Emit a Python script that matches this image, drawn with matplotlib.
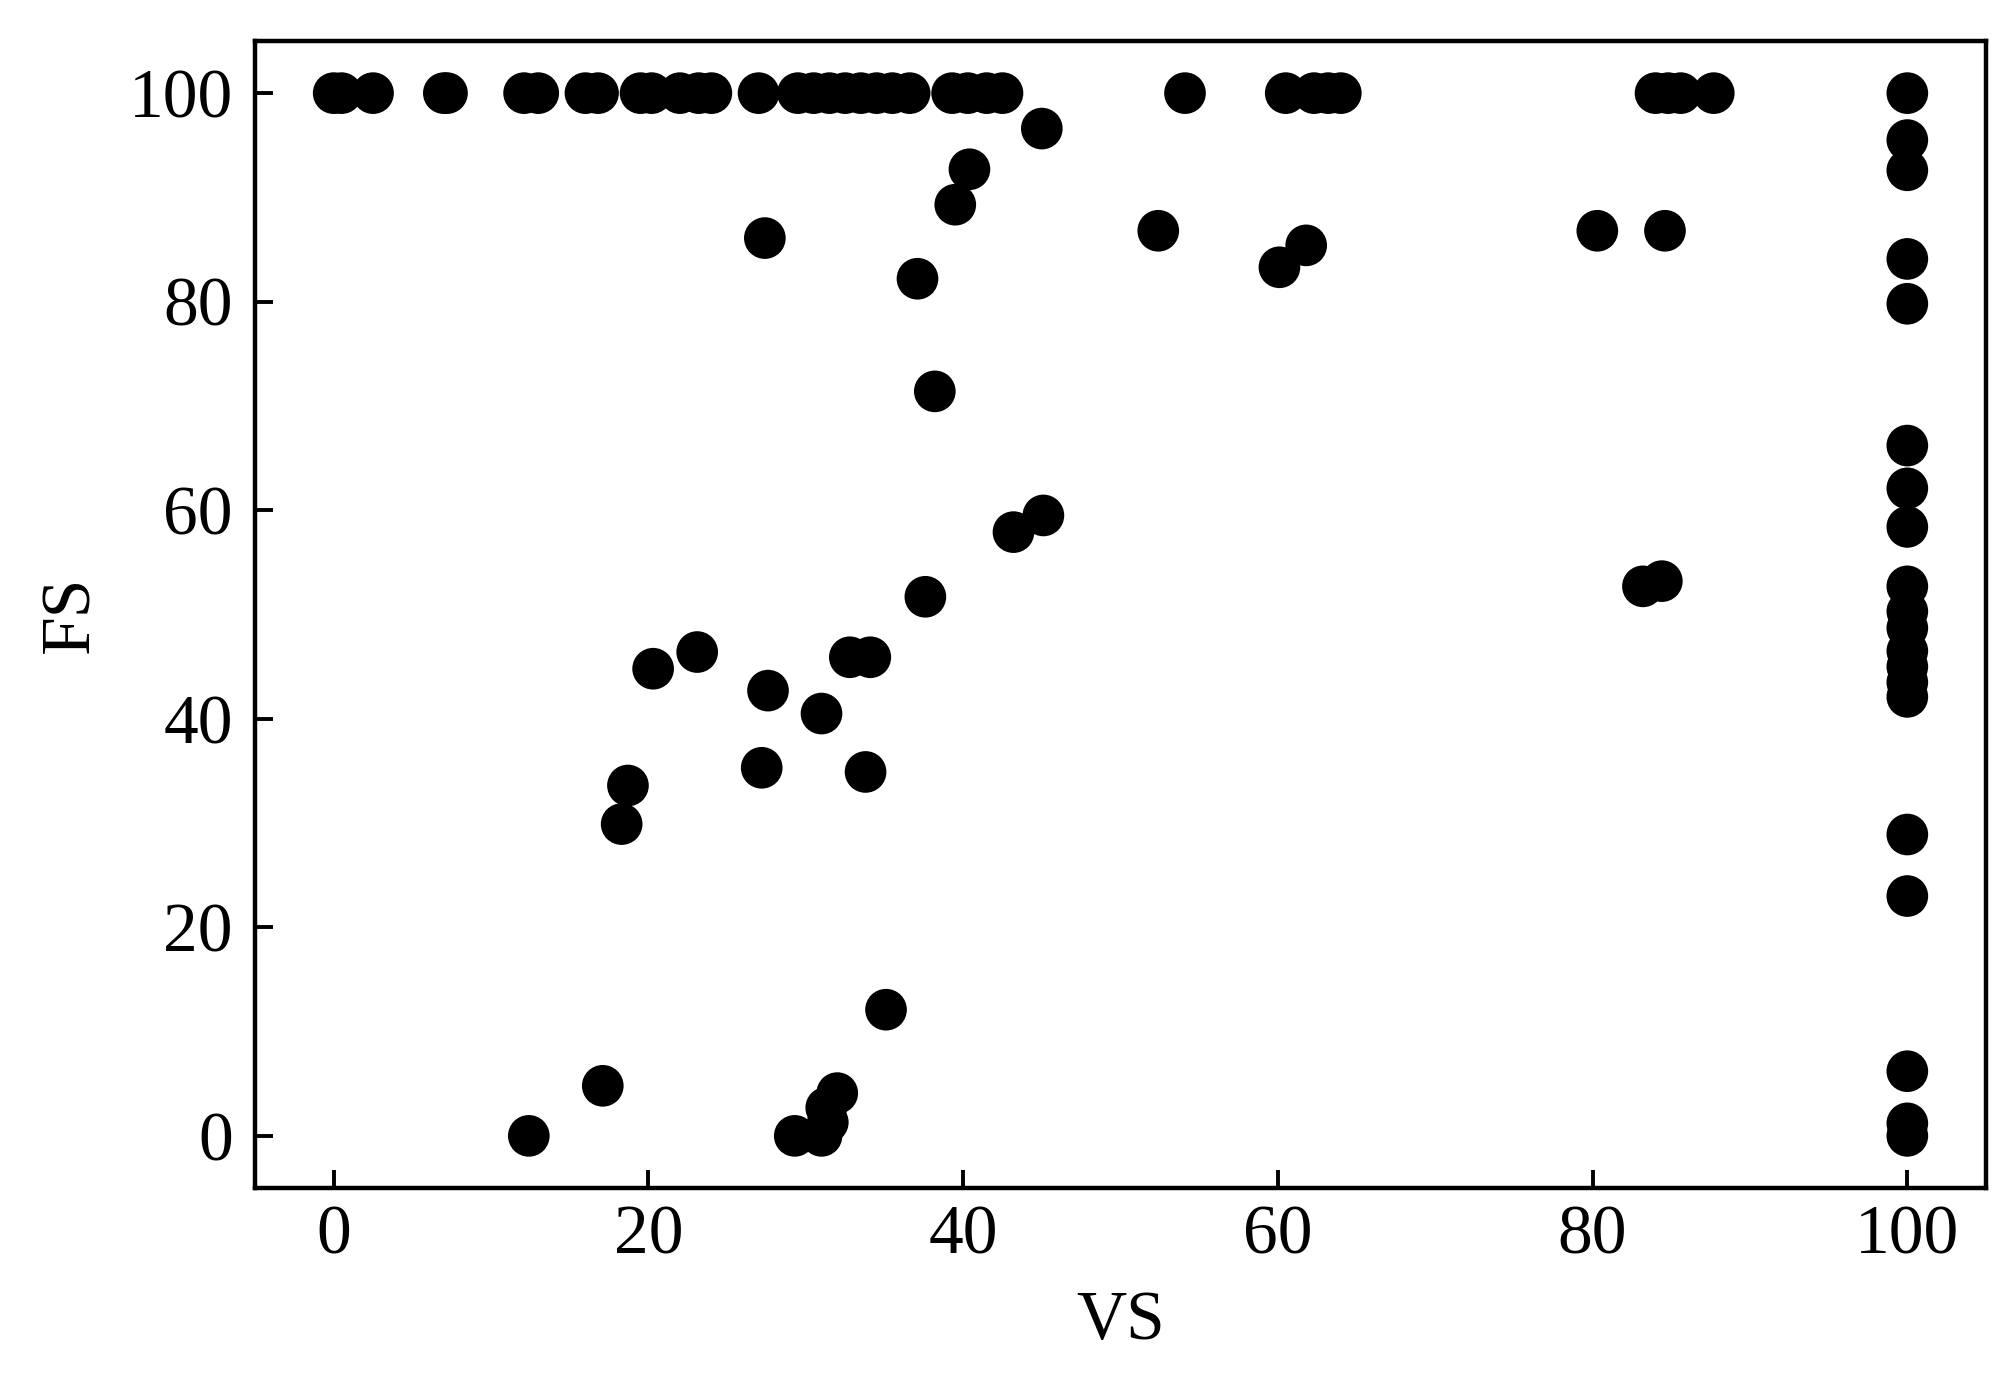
import matplotlib
matplotlib.use("Agg")
import matplotlib.pyplot as plt

plt.rcParams['font.family'] = ['Liberation Serif', 'DejaVu Serif']

# top row (FS = 100)
vs_top = [0, 0.5, 2.5, 7.0, 7.2, 12.1, 13.0, 16.0, 16.8, 19.5, 20.2, 22.0, 23.2, 24.0,
          27.0, 29.5, 30.5, 31.5, 32.5, 33.5, 34.5, 35.5, 36.6, 39.3, 40.3, 41.5, 42.5,
          54.1, 60.5, 62.3, 63.2, 64.0, 84.0, 84.8, 85.6, 87.7, 100]
fs_top = [100] * len(vs_top)

# remaining points
vs_other = [45.0, 40.4, 39.5, 27.4, 37.1, 38.2, 52.4, 60.1, 61.8, 80.3, 84.6,
            43.2, 45.1, 37.6, 20.3, 23.1, 27.6, 31.0, 32.8, 34.1,
            18.7, 18.3, 27.2, 33.8, 35.1, 17.1, 12.4,
            29.3, 31.0, 31.3, 31.4, 32.0,
            83.2, 84.4]
fs_other = [96.6, 92.7, 89.3, 86.1, 82.2, 71.4, 86.8, 83.3, 85.4, 86.8, 86.8,
            57.9, 59.5, 51.7, 44.8, 46.4, 42.7, 40.5, 45.9, 45.9,
            33.6, 29.9, 35.3, 34.9, 12.1, 4.8, 0.0,
            0.0, 0.0, 2.7, 1.3, 4.1,
            52.7, 53.2]

# column at VS = 100
fs_col100 = [95.5, 92.6, 84.1, 79.8, 66.2, 62.1, 58.4, 52.7, 50.3, 48.7, 46.5, 45.0,
             43.5, 42.1, 28.9, 23.0, 6.2, 1.2, 0.0]
vs_col100 = [100] * len(fs_col100)

vs = vs_top + vs_other + vs_col100
fs = fs_top + fs_other + fs_col100

x_ticks = [0, 20, 40, 60, 80, 100]
y_ticks = [0, 20, 40, 60, 80, 100]

fig = plt.figure(figsize=(2013 / 200, 1384 / 200), dpi=200)
ax = fig.add_axes([255 / 2013, 1 - 1188 / 1384, (1986 - 255) / 2013, (1188 - 41) / 1384])

ax.scatter(vs, fs, s=225, color='black', edgecolors='none', zorder=3)

ax.set_xlim(-5, 105)
ax.set_ylim(-5, 105)
ax.set_xticks(x_ticks)
ax.set_yticks(y_ticks)
ax.tick_params(axis='both', direction='in', length=6.5, width=1.4, labelsize=25,
               top=False, right=False)
ax.tick_params(axis='y', pad=8)
ax.tick_params(axis='x', pad=6)
for sp in ax.spines.values():
    sp.set_linewidth(1.6)

ax.set_xlabel('VS', fontsize=25, labelpad=8)
ax.set_ylabel('FS', fontsize=25, labelpad=9)

fig.savefig('out.png', dpi=200, facecolor='white')
